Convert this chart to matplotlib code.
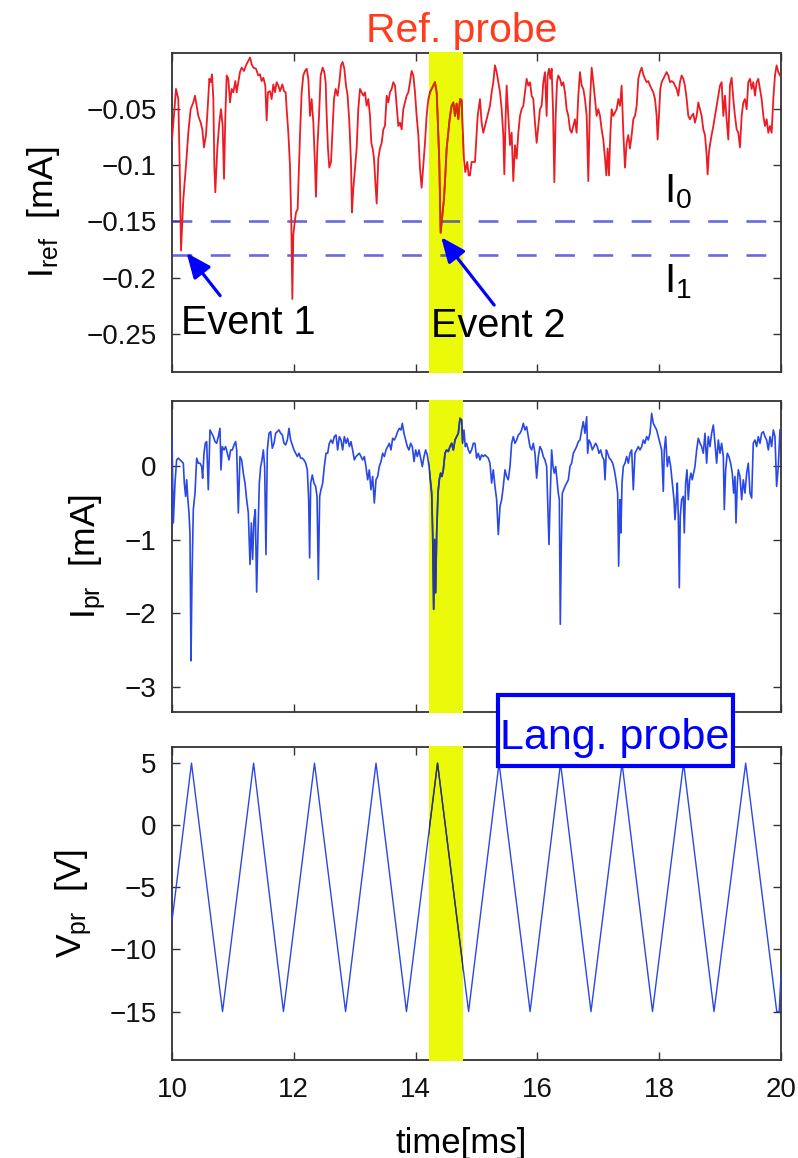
import matplotlib
matplotlib.use("Agg")
import matplotlib.pyplot as plt
from matplotlib.patches import Rectangle

plt.rcParams['font.family'] = ['Liberation Sans', 'DejaVu Sans']
plt.rcParams['mathtext.fontset'] = 'custom'
plt.rcParams['mathtext.rm'] = 'Liberation Sans'
plt.rcParams['mathtext.it'] = 'Liberation Sans:italic'
plt.rcParams['axes.unicode_minus'] = True

# ---------------- data ----------------
# reference probe current I_ref [mA] : (time ms, current)
ref_probe = [
    (10.000, -0.077), (10.066, -0.032), (10.104, -0.041), (10.131, -0.115), (10.148, -0.176),
    (10.186, -0.130), (10.230, -0.100), (10.268, -0.071), (10.306, -0.050), (10.350, -0.044),
    (10.378, -0.038), (10.405, -0.047), (10.432, -0.056), (10.471, -0.062), (10.498, -0.068),
    (10.525, -0.084), (10.558, -0.073), (10.585, -0.050), (10.613, -0.023), (10.635, -0.026),
    (10.657, -0.019), (10.679, -0.041), (10.695, -0.100), (10.711, -0.124), (10.744, -0.085),
    (10.777, -0.062), (10.804, -0.050), (10.832, -0.065), (10.854, -0.112), (10.876, -0.056),
    (10.898, -0.020), (10.925, -0.023), (10.952, -0.044), (10.980, -0.032), (11.007, -0.035),
    (11.040, -0.025), (11.062, -0.035), (11.089, -0.026), (11.116, -0.017), (11.144, -0.013),
    (11.182, -0.016), (11.215, -0.011), (11.253, -0.007), (11.281, -0.004), (11.308, -0.010),
    (11.335, -0.013), (11.379, -0.014), (11.417, -0.020), (11.445, -0.019), (11.472, -0.025),
    (11.500, -0.022), (11.532, -0.029), (11.554, -0.060), (11.576, -0.035), (11.609, -0.034),
    (11.636, -0.041), (11.664, -0.028), (11.691, -0.035), (11.718, -0.026), (11.746, -0.029),
    (11.773, -0.034), (11.812, -0.028), (11.839, -0.034), (11.866, -0.035), (11.883, -0.050),
    (11.910, -0.071), (11.937, -0.100), (11.959, -0.151), (11.976, -0.219), (11.992, -0.162),
    (12.014, -0.151), (12.036, -0.142), (12.063, -0.139), (12.085, -0.103), (12.102, -0.073),
    (12.129, -0.035), (12.156, -0.020), (12.184, -0.016), (12.211, -0.014), (12.239, -0.023),
    (12.266, -0.056), (12.293, -0.041), (12.321, -0.062), (12.348, -0.100), (12.364, -0.128),
    (12.386, -0.085), (12.414, -0.056), (12.441, -0.020), (12.474, -0.013), (12.501, -0.017),
    (12.523, -0.026), (12.540, -0.056), (12.561, -0.085), (12.583, -0.102), (12.611, -0.097),
    (12.633, -0.071), (12.660, -0.041), (12.687, -0.032), (12.720, -0.038), (12.748, -0.026),
    (12.775, -0.011), (12.802, -0.008), (12.830, -0.014), (12.857, -0.029), (12.884, -0.038),
    (12.912, -0.062), (12.939, -0.097), (12.955, -0.142), (12.977, -0.121), (13.005, -0.103),
    (13.032, -0.085), (13.059, -0.050), (13.087, -0.032), (13.114, -0.035), (13.142, -0.038),
    (13.169, -0.035), (13.196, -0.047), (13.224, -0.041), (13.251, -0.056), (13.273, -0.080),
    (13.295, -0.085), (13.317, -0.094), (13.339, -0.115), (13.361, -0.134), (13.388, -0.094),
    (13.415, -0.085), (13.443, -0.080), (13.470, -0.068), (13.497, -0.065), (13.525, -0.038),
    (13.552, -0.044), (13.579, -0.035), (13.607, -0.032), (13.634, -0.026), (13.662, -0.029),
    (13.689, -0.047), (13.716, -0.065), (13.744, -0.062), (13.771, -0.068), (13.798, -0.050),
    (13.826, -0.044), (13.853, -0.038), (13.881, -0.035), (13.908, -0.026), (13.935, -0.016),
    (13.963, -0.020), (13.990, -0.035), (14.017, -0.056), (14.045, -0.073), (14.072, -0.103),
    (14.099, -0.120), (14.127, -0.100), (14.154, -0.080), (14.181, -0.056), (14.209, -0.041),
    (14.236, -0.035), (14.264, -0.032), (14.291, -0.029), (14.318, -0.026), (14.346, -0.035),
    (14.368, -0.065), (14.389, -0.097), (14.411, -0.160), (14.439, -0.145), (14.466, -0.130),
    (14.488, -0.109), (14.510, -0.085), (14.537, -0.071), (14.565, -0.056), (14.592, -0.047),
    (14.619, -0.044), (14.647, -0.056), (14.674, -0.045), (14.701, -0.059), (14.729, -0.041),
    (14.756, -0.042), (14.773, -0.065), (14.794, -0.094), (14.816, -0.106), (14.849, -0.097),
    (14.871, -0.109), (14.893, -0.109), (14.920, -0.097),
    (14.975, -0.097), (15.019, -0.056), (15.057, -0.041), (15.084, -0.062), (15.112, -0.071),
    (15.139, -0.065), (15.167, -0.059), (15.194, -0.053), (15.221, -0.047), (15.249, -0.035),
    (15.276, -0.026), (15.303, -0.011), (15.331, -0.017), (15.358, -0.026), (15.386, -0.035),
    (15.413, -0.050), (15.440, -0.073), (15.457, -0.108), (15.479, -0.056), (15.495, -0.029),
    (15.522, -0.056), (15.550, -0.082), (15.577, -0.071), (15.604, -0.114), (15.632, -0.082),
    (15.659, -0.094), (15.687, -0.071), (15.714, -0.056), (15.741, -0.050), (15.769, -0.047),
    (15.796, -0.035), (15.823, -0.023), (15.851, -0.029), (15.878, -0.026), (15.905, -0.038),
    (15.933, -0.041), (15.960, -0.062), (15.988, -0.080), (16.015, -0.065), (16.042, -0.050),
    (16.070, -0.047), (16.097, -0.026), (16.124, -0.017), (16.152, -0.056), (16.168, -0.020),
    (16.190, -0.014), (16.212, -0.023), (16.234, -0.014), (16.256, -0.050), (16.278, -0.115),
    (16.300, -0.056), (16.322, -0.026), (16.343, -0.020), (16.371, -0.023), (16.398, -0.029),
    (16.425, -0.026), (16.453, -0.035), (16.480, -0.050), (16.508, -0.056), (16.535, -0.068),
    (16.562, -0.071), (16.590, -0.065), (16.617, -0.059), (16.644, -0.071), (16.672, -0.038),
    (16.699, -0.017), (16.727, -0.029), (16.754, -0.032), (16.781, -0.041), (16.809, -0.056),
    (16.836, -0.114), (16.863, -0.044), (16.891, -0.013), (16.918, -0.026), (16.945, -0.041),
    (16.973, -0.056), (17.000, -0.050), (17.028, -0.056), (17.055, -0.068), (17.082, -0.077),
    (17.110, -0.094), (17.132, -0.109), (17.153, -0.085), (17.175, -0.109), (17.197, -0.073),
    (17.219, -0.050), (17.246, -0.056), (17.274, -0.053), (17.301, -0.050), (17.329, -0.041),
    (17.356, -0.047), (17.383, -0.029), (17.411, -0.071), (17.438, -0.102), (17.465, -0.080),
    (17.493, -0.073), (17.520, -0.085), (17.548, -0.073), (17.575, -0.059), (17.602, -0.056),
    (17.630, -0.047), (17.657, -0.023), (17.684, -0.017), (17.712, -0.013), (17.739, -0.019),
    (17.766, -0.023), (17.794, -0.026), (17.821, -0.025), (17.849, -0.029), (17.876, -0.032),
    (17.903, -0.035), (17.931, -0.041), (17.958, -0.056), (17.974, -0.077), (17.996, -0.056),
    (18.018, -0.032), (18.040, -0.026), (18.067, -0.023), (18.095, -0.020), (18.122, -0.017),
    (18.150, -0.020), (18.177, -0.026), (18.204, -0.025), (18.232, -0.026), (18.259, -0.029),
    (18.286, -0.032), (18.314, -0.038), (18.341, -0.026), (18.368, -0.020), (18.396, -0.023),
    (18.423, -0.029), (18.451, -0.041), (18.478, -0.056), (18.505, -0.059), (18.533, -0.056),
    (18.560, -0.054), (18.587, -0.062), (18.615, -0.056), (18.642, -0.044), (18.670, -0.050),
    (18.697, -0.056), (18.724, -0.068), (18.752, -0.073), (18.779, -0.091), (18.795, -0.108),
    (18.817, -0.088), (18.839, -0.080), (18.861, -0.073), (18.889, -0.065), (18.916, -0.056),
    (18.943, -0.047), (18.971, -0.038), (18.998, -0.029), (19.025, -0.026), (19.053, -0.056),
    (19.080, -0.038), (19.107, -0.059), (19.135, -0.077), (19.162, -0.029), (19.189, -0.022),
    (19.217, -0.041), (19.244, -0.056), (19.272, -0.068), (19.299, -0.071), (19.326, -0.084),
    (19.354, -0.056), (19.381, -0.044), (19.408, -0.041), (19.436, -0.050), (19.463, -0.026),
    (19.491, -0.023), (19.518, -0.032), (19.545, -0.026), (19.573, -0.038), (19.600, -0.026),
    (19.627, -0.023), (19.655, -0.032), (19.682, -0.041), (19.710, -0.056), (19.737, -0.065),
    (19.764, -0.059), (19.792, -0.071), (19.819, -0.065), (19.846, -0.071), (19.874, -0.041),
    (19.901, -0.020), (19.928, -0.011), (19.956, -0.017), (19.983, -0.020),
]

# Langmuir probe current I_pr [mA] : (time ms, current)
lang_current = [
    (10.000, 0.397), (10.022, -0.775), (10.049, -0.234), (10.076, 0.081), (10.104, 0.104),
    (10.131, 0.081), (10.159, 0.059), (10.186, 0.036), (10.202, -0.234), (10.224, -0.414),
    (10.241, -0.189), (10.257, -0.414), (10.279, -0.640), (10.295, -0.910), (10.312, -2.644),
    (10.328, -1.541), (10.350, -0.594), (10.378, -0.369), (10.405, 0.104), (10.432, 0.036),
    (10.460, 0.036), (10.487, -0.009), (10.503, -0.167), (10.525, 0.171), (10.547, 0.306),
    (10.569, 0.329), (10.596, -0.324), (10.624, 0.487), (10.651, 0.442), (10.679, 0.397),
    (10.706, 0.329), (10.733, 0.306), (10.761, 0.397), (10.788, 0.509), (10.804, -0.054),
    (10.826, 0.261), (10.854, 0.216), (10.881, 0.261), (10.908, 0.171), (10.936, 0.081),
    (10.963, 0.216), (10.991, 0.216), (11.018, 0.284), (11.045, 0.329), (11.062, 0.216),
    (11.089, -0.640), (11.116, 0.126), (11.144, 0.081), (11.171, -0.099), (11.199, -0.234),
    (11.226, -0.459), (11.253, -0.640), (11.281, -1.338), (11.303, -0.775), (11.324, -1.270),
    (11.346, -0.730), (11.368, -0.594), (11.390, -1.712), (11.412, -0.910), (11.434, -0.234),
    (11.456, -0.009), (11.478, 0.081), (11.500, 0.216), (11.521, -0.009), (11.543, -1.203),
    (11.565, 0.216), (11.593, 0.442), (11.620, 0.464), (11.647, 0.239), (11.675, 0.306),
    (11.702, 0.442), (11.729, 0.464), (11.757, 0.487), (11.784, 0.442), (11.812, 0.419),
    (11.839, 0.306), (11.866, 0.284), (11.894, 0.351), (11.921, 0.509), (11.948, 0.351),
    (11.976, 0.284), (12.003, 0.216), (12.030, 0.171), (12.058, 0.126), (12.085, 0.171),
    (12.113, 0.104), (12.140, 0.104), (12.167, 0.081), (12.195, 0.036), (12.222, -0.054),
    (12.244, -0.459), (12.260, -1.248), (12.277, -0.234), (12.304, -0.124), (12.331, -0.234),
    (12.359, -0.279), (12.381, -0.414), (12.403, -1.541), (12.425, -0.414), (12.446, -0.324),
    (12.474, -0.234), (12.501, -0.009), (12.529, 0.171), (12.556, 0.171), (12.583, 0.306),
    (12.611, 0.351), (12.638, 0.306), (12.665, 0.397), (12.693, 0.419), (12.720, 0.216),
    (12.748, 0.397), (12.775, 0.351), (12.802, 0.216), (12.830, 0.397), (12.857, 0.306),
    (12.884, 0.374), (12.912, 0.261), (12.939, 0.329), (12.966, 0.216), (12.994, 0.081),
    (13.021, 0.126), (13.048, 0.149), (13.076, 0.171), (13.103, 0.126), (13.131, 0.081),
    (13.158, 0.126), (13.185, -0.009), (13.213, -0.189), (13.240, -0.054), (13.267, -0.324),
    (13.295, -0.144), (13.322, -0.504), (13.350, -0.189), (13.377, -0.144), (13.404, -0.009),
    (13.432, 0.059), (13.459, 0.171), (13.487, 0.126), (13.514, 0.216), (13.541, 0.261),
    (13.569, 0.306), (13.596, 0.216), (13.623, 0.374), (13.651, 0.351), (13.678, 0.397),
    (13.705, 0.464), (13.733, 0.509), (13.760, 0.487), (13.782, 0.577), (13.809, 0.442),
    (13.837, 0.351), (13.864, 0.261), (13.891, 0.216), (13.919, 0.306), (13.946, 0.261),
    (13.974, 0.059), (14.001, 0.216), (14.028, 0.126), (14.056, 0.216), (14.083, 0.104),
    (14.110, -0.009), (14.138, 0.126), (14.165, 0.216), (14.192, 0.149), (14.220, -0.009),
    (14.242, -0.189), (14.264, -0.369), (14.280, -0.910), (14.297, -1.946), (14.313, -1.000),
    (14.329, -1.721), (14.346, -0.910), (14.368, -0.369), (14.389, -0.189), (14.411, -0.099),
    (14.433, -0.144), (14.455, -0.054), (14.483, 0.171), (14.510, 0.216), (14.537, 0.194),
    (14.565, 0.261), (14.592, 0.306), (14.619, 0.216), (14.647, 0.351), (14.674, 0.397),
    (14.701, 0.442), (14.729, 0.644), (14.756, 0.622), (14.773, 0.306), (14.794, 0.487),
    (14.816, 0.261), (14.838, 0.306), (14.866, 0.216), (14.893, 0.171), (14.920, 0.216),
    (14.948, 0.306),
    (14.975, 0.306), (15.002, 0.104), (15.030, 0.171), (15.057, 0.081), (15.084, 0.149),
    (15.112, 0.126), (15.139, 0.149), (15.167, 0.126), (15.194, 0.104), (15.221, 0.036),
    (15.249, -0.234), (15.276, -0.054), (15.303, -0.279), (15.331, -0.459), (15.358, -0.932),
    (15.386, -0.549), (15.413, -0.459), (15.440, -0.279), (15.468, -0.054), (15.495, -0.144),
    (15.522, -0.189), (15.550, -0.009), (15.577, 0.306), (15.604, 0.397), (15.632, 0.306),
    (15.659, 0.351), (15.687, 0.419), (15.714, 0.442), (15.741, 0.487), (15.769, 0.577),
    (15.796, 0.487), (15.823, 0.532), (15.851, 0.397), (15.878, 0.261), (15.905, 0.216),
    (15.933, 0.306), (15.960, 0.171), (15.988, -0.167), (16.015, 0.126), (16.042, 0.261),
    (16.070, 0.216), (16.097, 0.126), (16.124, 0.081), (16.152, -0.009), (16.168, -0.459),
    (16.190, -1.067), (16.212, -0.369), (16.234, 0.216), (16.256, -0.009), (16.278, -0.099),
    (16.300, -0.009), (16.322, -0.189), (16.343, -0.369), (16.360, -0.459), (16.376, -2.149),
    (16.393, -1.045), (16.409, -0.369), (16.431, -0.324), (16.453, -0.279), (16.480, -0.234),
    (16.508, -0.189), (16.535, -0.009), (16.562, 0.036), (16.590, 0.171), (16.617, 0.216),
    (16.644, 0.261), (16.672, 0.329), (16.699, 0.351), (16.727, 0.487), (16.754, 0.599),
    (16.781, 0.442), (16.809, 0.667), (16.825, 0.171), (16.847, 0.351), (16.874, 0.306),
    (16.902, 0.216), (16.929, 0.261), (16.956, 0.306), (16.984, 0.261), (17.011, 0.171),
    (17.039, 0.216), (17.066, 0.126), (17.093, 0.081), (17.110, -0.189), (17.132, 0.216),
    (17.153, 0.171), (17.181, 0.104), (17.208, 0.081), (17.236, 0.036), (17.263, -0.054),
    (17.290, -0.189), (17.318, -0.369), (17.334, -1.360), (17.356, -0.459), (17.372, -0.910),
    (17.389, -0.234), (17.411, -0.009), (17.438, 0.036), (17.465, 0.126), (17.493, 0.036),
    (17.520, 0.171), (17.548, 0.216), (17.575, -0.324), (17.602, 0.171), (17.630, 0.216),
    (17.657, 0.261), (17.684, 0.216), (17.712, 0.261), (17.739, 0.351), (17.766, 0.306),
    (17.794, 0.397), (17.821, 0.351), (17.849, 0.442), (17.876, 0.712), (17.903, 0.577),
    (17.931, 0.532), (17.958, 0.487), (17.985, 0.397), (18.013, 0.306), (18.040, 0.216),
    (18.067, -0.347), (18.084, 0.216), (18.106, 0.397), (18.133, -0.009), (18.161, 0.126),
    (18.188, -0.009), (18.215, -0.234), (18.243, -0.459), (18.259, -0.730), (18.281, -0.459),
    (18.297, -0.234), (18.314, -0.685), (18.330, -1.653), (18.346, -0.685), (18.368, -0.459),
    (18.396, -0.414), (18.412, -0.910), (18.434, -0.234), (18.456, -0.054), (18.478, -0.459),
    (18.500, -0.189), (18.522, -0.099), (18.543, -0.189), (18.565, -0.099), (18.587, -0.009),
    (18.615, 0.216), (18.642, 0.374), (18.670, 0.306), (18.697, 0.261), (18.724, 0.171),
    (18.752, 0.442), (18.779, 0.036), (18.806, 0.397), (18.834, 0.261), (18.861, 0.442),
    (18.889, 0.554), (18.916, 0.306), (18.943, 0.036), (18.971, 0.351), (18.998, 0.171),
    (19.025, 0.306), (19.053, 0.126), (19.069, -0.594), (19.091, -0.054), (19.118, 0.171),
    (19.145, 0.126), (19.173, 0.036), (19.200, -0.099), (19.222, -0.369), (19.244, -0.144),
    (19.261, -0.775), (19.283, -0.234), (19.299, -0.054), (19.326, -0.144), (19.354, -0.459),
    (19.381, -0.189), (19.408, -0.369), (19.436, -0.099), (19.463, 0.036), (19.491, -0.369),
    (19.518, -0.437), (19.545, 0.306), (19.573, 0.351), (19.600, 0.261), (19.627, 0.397),
    (19.655, 0.306), (19.682, 0.442), (19.710, 0.464), (19.737, 0.397), (19.764, 0.351),
    (19.792, 0.216), (19.819, 0.397), (19.846, 0.261), (19.874, 0.487), (19.901, 0.397),
    (19.928, -0.279), (19.956, -0.009), (19.983, 0.487),
]

# Langmuir probe sweep voltage V_pr [V] : triangle vertices
sweep_time = [10.00, 10.32, 10.83, 11.34, 11.83, 12.34, 12.85, 13.35, 13.85, 14.36, 14.87,
              15.37, 15.88, 16.38, 16.88, 17.39, 17.89, 18.40, 18.90, 19.42, 19.93, 19.97, 20.00]
sweep_volt = [-7.7, 5, -15, 5, -15, 5, -15, 5, -15, 5, -15,
              5, -15, 5, -15, 5, -15, 5, -15, 5, -15, -15, -12]

threshold_levels = [-0.15, -0.18]          # I0, I1
highlight_window = (14.22, 14.78)          # ms
x_ticks = [10, 12, 14, 16, 18, 20]
ref_yticks = [-0.25, -0.2, -0.15, -0.1, -0.05]
ref_ylabels = ['\u22120.25', '\u22120.2', '\u22120.15', '\u22120.1', '\u22120.05']
pr_yticks = [-3, -2, -1, 0]
pr_ylabels = ['\u22123', '\u22122', '\u22121', '0']
v_yticks = [-15, -10, -5, 0, 5]
v_ylabels = ['\u221215', '\u221210', '\u22125', '0', '5']

# ---------------- styling ----------------
W, H = 798, 1158
RED = '#ec1c24'
BLUE = '#2a48e6'
YELLOW = '#ebfa08'
FRAME = '#333333'

fig = plt.figure(figsize=(W / 100, H / 100), dpi=100)
fig.patch.set_facecolor('white')


def axes_px(left, top, right, bottom):
    return fig.add_axes([left / W, 1 - bottom / H, (right - left) / W, (bottom - top) / H])


ax1 = axes_px(172, 53, 781, 372)
ax2 = axes_px(172, 401, 781, 712)
ax3 = axes_px(172, 747, 781, 1060)


def style(ax, ylim, yticks, ylabels, show_x):
    ax.set_xlim(10, 20)
    ax.set_ylim(*ylim)
    ax.set_xticks(x_ticks)
    ax.set_yticks(yticks)
    ax.set_yticklabels(ylabels)
    if show_x:
        ax.set_xticklabels([str(v) for v in x_ticks])
    else:
        ax.set_xticklabels([])
    ax.tick_params(direction='in', length=6, width=1.0, color=FRAME,
                   top=True, right=True, labelsize=20, labelcolor='#111111')
    ax.tick_params(axis='y', pad=11)
    ax.tick_params(axis='x', pad=12)
    for s in ax.spines.values():
        s.set_linewidth(1.3)
        s.set_color(FRAME)
        s.set_zorder(2.5)


def band(ax):
    return ax.axvspan(*highlight_window, ymin=-0.004, ymax=1.004, color=YELLOW,
                      lw=0, zorder=2.6, clip_on=False)


style(ax1, (-0.284, 0.0), ref_yticks, ref_ylabels, False)
style(ax2, (-3.34, 0.88), pr_yticks, pr_ylabels, False)
style(ax3, (-18.9, 6.3), v_yticks, v_ylabels, True)

# panel 1 : reference probe
rt = [p[0] for p in ref_probe]
ri = [p[1] for p in ref_probe]
sp1 = band(ax1)
ax1.plot(rt, ri, color=RED, lw=1.3, zorder=3)
inside = ax1.plot(rt, ri, color='#d0300a', lw=1.3, zorder=3.1)[0]
inside.set_clip_path(sp1)
for lvl in threshold_levels:
    ax1.axhline(lvl, color='#3030d0', alpha=0.72, lw=1.9, dashes=(7.5, 7), zorder=2.7)

arrow_kw = dict(arrowstyle='-|>,head_length=0.75,head_width=0.32', color='#0000ff',
                lw=2.3, mutation_scale=20, shrinkA=0, shrinkB=0)
ax1.annotate('', xy=(10.24, -0.178), xytext=(10.79, -0.216), arrowprops=arrow_kw, zorder=5)
ax1.annotate('', xy=(14.42, -0.164), xytext=(15.29, -0.2244), arrowprops=arrow_kw, zorder=5)
ax1.text(10.15, -0.250, 'Event 1', fontsize=28.5, ha='left', va='baseline', zorder=6)
ax1.text(14.25, -0.2528, 'Event 2', fontsize=28.5, ha='left', va='baseline', zorder=6)
ax1.text(18.08, -0.1327, r'$\mathregular{I_0}$', fontsize=29, ha='left', va='baseline')
ax1.text(18.08, -0.2128, r'$\mathregular{I_1}$', fontsize=29, ha='left', va='baseline')
ax1.set_ylabel(r'$\mathregular{I_{ref}}$  [mA]', fontsize=25.5)
ax1.yaxis.set_label_coords(-0.181, 0.5)

# panel 2 : Langmuir probe current
lt = [p[0] for p in lang_current]
li = [p[1] for p in lang_current]
sp2 = band(ax2)
ax2.plot(lt, li, color=BLUE, lw=1.2, zorder=3)
inside2 = ax2.plot(lt, li, color='#2a3a90', lw=1.2, zorder=3.1)[0]
inside2.set_clip_path(sp2)
ax2.set_ylabel(r'$\mathregular{I_{pr}}$  [mA]', fontsize=25.5)
ax2.yaxis.set_label_coords(-0.105, 0.5)

# panel 3 : sweep voltage
sp3 = band(ax3)
ax3.plot(sweep_time, sweep_volt, color=BLUE, lw=1.0, zorder=3)
inside3 = ax3.plot(sweep_time, sweep_volt, color='#33334a', lw=1.0, zorder=3.1)[0]
inside3.set_clip_path(sp3)
ax3.set_ylabel(r'$\mathregular{V_{pr}}$  [V]', fontsize=25.5)
ax3.yaxis.set_label_coords(-0.128, 0.5)
ax3.set_xlabel('time[ms]', fontsize=25)
ax3.xaxis.set_label_coords(0.475, -0.215)
ax3.xaxis.label.set_va('top')

# titles / boxes
fig.text(462 / W, 1 - 42 / H, 'Ref. probe', color='#ff3c1e', fontsize=29.5,
         ha='center', va='baseline')
fig.add_artist(Rectangle((498 / W, 1 - 766 / H), (733 - 498) / W, (766 - 695) / H,
                         transform=fig.transFigure, facecolor='white',
                         edgecolor='#0000ff', lw=3, zorder=5))
fig.text(615 / W, 1 - 749 / H, 'Lang. probe', color='#0000ff', fontsize=31,
         ha='center', va='baseline', zorder=6)

fig.savefig('out.png', dpi=100, facecolor='white')
